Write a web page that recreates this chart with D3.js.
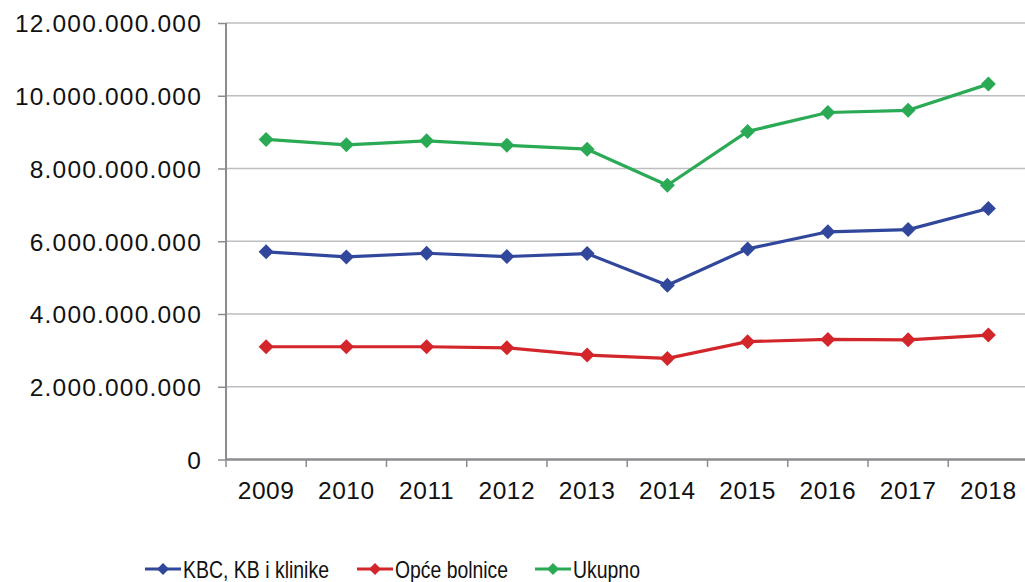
<!DOCTYPE html>
<html><head><meta charset="utf-8">
<script src="https://cdn.jsdelivr.net/npm/d3@7"></script>
<style>body{margin:0;background:#fff}svg{display:block}</style>
</head><body>
<script>
const years = ["2009","2010","2011","2012","2013","2014","2015","2016","2017","2018"];
const kbc = [5.71e9,5.57e9,5.67e9,5.58e9,5.66e9,4.79e9,5.79e9,6.26e9,6.32e9,6.90e9];
const opce = [3.10e9,3.10e9,3.10e9,3.07e9,2.87e9,2.78e9,3.24e9,3.30e9,3.29e9,3.42e9];
const ukupno = [8.80e9,8.65e9,8.76e9,8.64e9,8.53e9,7.54e9,9.02e9,9.54e9,9.60e9,10.32e9];
const yTicks = [0,2e9,4e9,6e9,8e9,10e9,12e9];
const seriesNames = ["KBC, KB i klinike","Opće bolnice","Ukupno"];
const colors = ["#30479C","#D2262B","#2BAA55"];

const W=1025,H=582;
const svg=d3.select("body").append("svg").attr("width",W).attr("height",H);
const x=d3.scaleBand().domain(years).range([226,226+80.25*10]);
const y=d3.scaleLinear().domain([0,12e9]).range([459.5,23]);
const fmt=v=>v===0?"0":d3.format(",")(v).replace(/,/g,".");
const font="'Liberation Sans', Arial, sans-serif";

// gridlines
svg.append("g").selectAll("line").data(yTicks.filter(d=>d>0)).join("line")
 .attr("x1",226).attr("x2",W).attr("y1",d=>y(d)).attr("y2",d=>y(d))
 .attr("stroke","#BEBEC2").attr("stroke-width",1.5);

// y axis
const ya=svg.append("g").attr("transform","translate(226,0)")
 .call(d3.axisLeft(y).tickValues(yTicks).tickFormat(fmt).tickSize(8).tickPadding(16));
ya.select(".domain").attr("stroke","#8C8C90").attr("stroke-width",2).attr("d","M0,23V460");
ya.selectAll(".tick line").attr("stroke","#8C8C90").attr("stroke-width",1.5);
ya.selectAll(".tick text").attr("font-family",font).attr("font-size",24.5).attr("letter-spacing","1.2px")
 .attr("fill","#111").attr("dy","0.36em");

// x axis
const xa=svg.append("g").attr("transform","translate(0,459.5)")
 .call(d3.axisBottom(x).tickSize(0).tickPadding(22));
xa.select(".domain").attr("stroke","#8C8C90").attr("stroke-width",2.5).attr("d","M226,0H"+W);
xa.selectAll(".tick text").attr("font-family",font).attr("font-size",24.5).attr("letter-spacing","0.6px").attr("fill","#111");
svg.append("g").selectAll("line").data(d3.range(years.length+1)).join("line")
 .attr("x1",i=>226+i*x.step()).attr("x2",i=>226+i*x.step())
 .attr("y1",459.5).attr("y2",467).attr("stroke","#8C8C90").attr("stroke-width",1.5);

const data=[kbc,opce,ukupno];
const cx=d=>x(d)+x.bandwidth()/2;
const diamond=(s)=>`M0,${-s}L${s},0L0,${s}L${-s},0Z`;
data.forEach((vals,i)=>{
  const pts=years.map((yr,j)=>[cx(yr),y(vals[j])]);
  svg.append("path").attr("d",d3.line()(pts)).attr("fill","none")
   .attr("stroke",colors[i]).attr("stroke-width",3.2).attr("stroke-linejoin","round");
  svg.append("g").selectAll("path").data(pts).join("path")
   .attr("transform",p=>`translate(${p[0]},${p[1]})`).attr("d",diamond(7.5)).attr("fill",colors[i]);
});

// legend
const legX=[145,357,535];
const legW=[146,113,67];
const lg=svg.append("g");
seriesNames.forEach((n,i)=>{
  const g=lg.append("g").attr("transform",`translate(${legX[i]},569)`);
  g.append("line").attr("x1",0).attr("x2",36).attr("stroke",colors[i]).attr("stroke-width",3.2);
  g.append("path").attr("transform","translate(18,0)").attr("d",diamond(6)).attr("fill",colors[i]);
  g.append("text").attr("x",38).attr("y",0).attr("dy","0.36em")
   .attr("font-family",font).attr("textLength",legW[i]).attr("lengthAdjust","spacingAndGlyphs")
   .attr("font-size",24).attr("fill","#111").text(n);
});
</script>
</body></html>
